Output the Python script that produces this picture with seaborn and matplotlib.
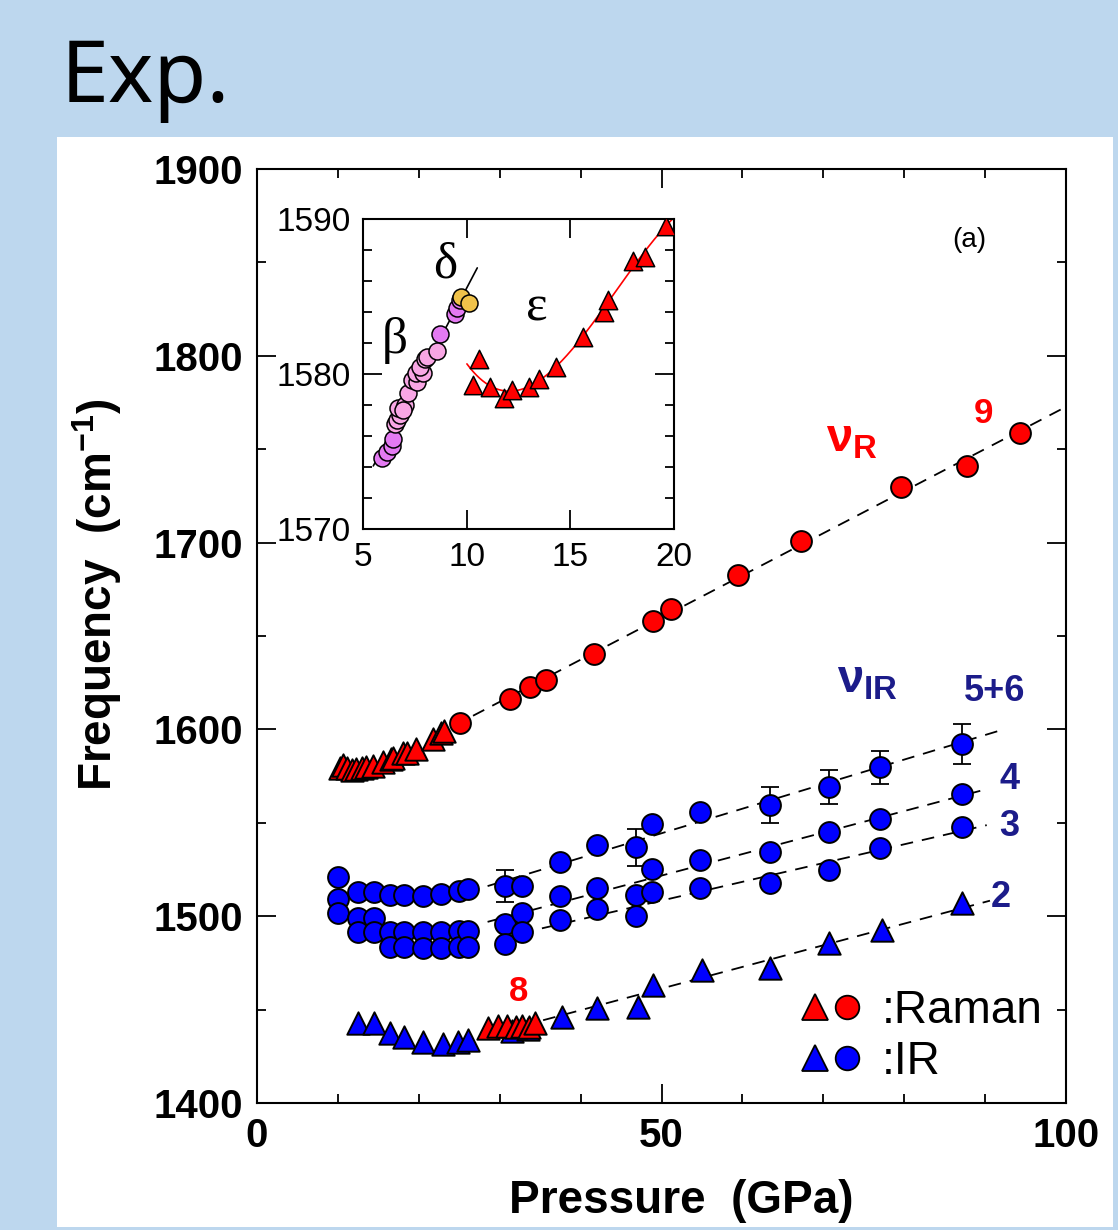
import numpy as np
import matplotlib
matplotlib.use("Agg")
import matplotlib.pyplot as plt
import seaborn as sns
from matplotlib.ticker import MultipleLocator
from matplotlib.lines import Line2D
from matplotlib.patches import Rectangle
from matplotlib.legend_handler import HandlerTuple

# ---- data ----
# Raman nu_R (mode 9), circles
r9_circ_p = [25.1, 31.3, 33.7, 35.7, 41.7, 48.9, 51.2, 59.5, 67.2, 79.6, 87.8, 94.3]
r9_circ_f = [1603.4, 1616.3, 1622.7, 1626.4, 1640.4, 1658.0, 1664.5, 1682.7, 1700.9, 1729.8, 1741.0, 1758.7]

# Raman mode 9, triangles (epsilon phase, also in inset)
r9_tri_p = [10.3, 10.6, 11.1, 11.8, 12.2, 13.0, 13.5, 14.3, 15.6, 16.6, 16.8, 18.0, 18.6, 19.6, 21.8, 22.8, 23.1]
r9_tri_f = [1579.3, 1581.0, 1579.2, 1578.5, 1579.0, 1579.2, 1579.7, 1580.5, 1582.4, 1584.0, 1584.8,
            1587.3, 1587.6, 1589.6, 1594.6, 1597.8, 1599.2]

# Raman mode 8, triangles
r8_p = [28.6, 29.8, 30.9, 32.0, 32.7, 33.6, 34.4]
r8_f = [1440.0, 1441.2, 1441.2, 1440.5, 1441.2, 1440.8, 1442.7]

# inset: beta phase (two shades) and delta phase
beta_violet_p = [5.89, 6.13, 6.37, 6.42, 8.70, 9.43, 9.51, 9.67]
beta_violet_f = [1574.6, 1575.0, 1575.4, 1575.8, 1582.6, 1583.9, 1584.3, 1584.8]
beta_pink_p = [6.53, 6.61, 6.77, 6.69, 7.01, 6.93, 7.17, 7.34, 7.58, 7.54, 7.87, 7.74, 7.98, 8.06, 8.54]
beta_pink_f = [1576.8, 1577.05, 1577.4, 1577.8, 1578.0, 1577.7, 1578.8, 1579.6, 1579.5, 1580.1,
               1580.1, 1580.5, 1581.0, 1581.1, 1581.5]
delta_p = [9.70, 10.12]
delta_f = [1585.0, 1584.6]

# IR circles, high pressure (modes 5+6, 4, 3)
ir_p = [30.7, 32.7, 37.5, 42.0, 46.9, 48.8, 54.8, 63.4, 70.7, 77.0, 87.1]
ir56_f = [1516.3, 1516.3, 1529.2, 1538.1, 1536.9, 1549.4, 1555.9, 1559.5, 1569.3, 1579.7, 1592.2]
ir56_err = [8.5, 0, 0, 0, 10.0, 0, 0, 9.4, 9.1, 8.9, 10.9]
ir4_f = [1495.8, 1501.9, 1510.8, 1514.9, 1511.3, 1525.3, 1530.1, 1534.2, 1545.1, 1552.0, 1565.4]
ir3_f = [1485.0, 1491.7, 1498.0, 1503.7, 1500.1, 1512.8, 1514.9, 1517.9, 1524.7, 1536.7, 1547.9]

# IR circles, low pressure
ir_low_p = [10.05, 10.05, 10.05, 12.5, 12.5, 12.5, 14.5, 14.5, 14.5, 16.4, 16.4, 16.4,
            18.2, 18.2, 18.2, 20.5, 20.5, 20.5, 22.8, 22.8, 22.8, 25.0, 25.0, 25.0, 26.1, 26.1, 26.1]
ir_low_f = [1520.8, 1509.2, 1501.6, 1512.8, 1499.2, 1491.7, 1512.8, 1499.2, 1491.7,
            1511.3, 1491.7, 1483.7, 1511.3, 1491.7, 1483.7, 1511.0, 1491.7, 1482.8,
            1511.7, 1491.7, 1482.8, 1513.7, 1492.1, 1483.7, 1514.4, 1492.1, 1483.7]

# IR mode 2, triangles
ir2_p = [12.5, 14.5, 16.4, 18.2, 20.5, 23.0, 24.9, 26.1, 31.5, 33.5, 37.7, 42.0, 47.1,
         49.0, 55.0, 63.4, 70.7, 77.2, 87.2]
ir2_f = [1442.7, 1442.7, 1437.6, 1435.2, 1432.8, 1431.6, 1432.8, 1433.7, 1438.5, 1439.5,
         1446.2, 1450.7, 1451.2, 1463.2, 1471.2, 1472.1, 1485.5, 1492.6, 1506.9]

RED = "#FF0000"
BLUE = "#0000FF"
NAVY = "#1C1C8A"

sns.set_theme(style="ticks", rc={"axes.edgecolor": "black", "xtick.color": "black",
                                 "ytick.color": "black", "text.color": "black",
                                 "axes.labelcolor": "black"})
plt.rcParams["font.family"] = ["Liberation Sans", "DejaVu Sans"]
plt.rcParams["mathtext.fontset"] = "custom"
plt.rcParams["mathtext.default"] = "regular"

fig = plt.figure(figsize=(11.18, 12.3), dpi=100, facecolor="#BDD7EE")
fig.add_artist(Rectangle((0.051, 0.0024), 0.9445, 0.8862, transform=fig.transFigure,
                         facecolor="white", edgecolor="none", zorder=-1))
fig.text(0.0546, 0.917, "Exp.", fontsize=62, family=["Noto Sans", "DejaVu Sans"], va="baseline")

ax = fig.add_axes([0.2299, 0.1033, 0.7236, 0.7593])


def fit_line(axis, p, f, lo, hi, deg=1, **kw):
    coef = np.polyfit(p, f, deg)
    xs = np.linspace(lo, hi, 200)
    sns.lineplot(x=xs, y=np.polyval(coef, xs), ax=axis, **kw)


dash = dict(color="black", linewidth=1.3, linestyle=(0, (7, 5)), zorder=1)
r9p, r9f = np.array(r9_circ_p), np.array(r9_circ_f)
fit_line(ax, r9p, r9f, 26.7, 100, **dash)
fit_line(ax, ir_p, ir56_f, 28.5, 91.6, **dash)
fit_line(ax, ir_p, ir4_f, 28.5, 89.4, **dash)
fit_line(ax, ir_p, ir3_f, 30.0, 90.2, **dash)
p2, f2 = np.array(ir2_p), np.array(ir2_f)
fit_line(ax, np.r_[p2[p2 > 26], r8_p], np.r_[f2[p2 > 26], r8_f], 27.6, 90.6, **dash)

err = np.array(ir56_err)
m = err > 0
ax.errorbar(np.array(ir_p)[m], np.array(ir56_f)[m], yerr=err[m], fmt="none", ecolor="black",
            elinewidth=1.3, capsize=6.5, capthick=1.3, zorder=2)

circ = dict(marker="o", s=225, edgecolor="black", linewidth=1.4, zorder=3, legend=False)
tri = dict(marker="^", s=260, edgecolor="black", linewidth=1.4, zorder=3, legend=False)
sns.scatterplot(x=ir_low_p, y=ir_low_f, color=BLUE, ax=ax, **circ)
for fv in (ir56_f, ir4_f, ir3_f):
    sns.scatterplot(x=ir_p, y=fv, color=BLUE, ax=ax, **circ)
sns.scatterplot(x=ir2_p, y=ir2_f, color=BLUE, ax=ax, **tri)
sns.scatterplot(x=r8_p, y=r8_f, color=RED, ax=ax, **tri)
sns.scatterplot(x=r9_tri_p, y=r9_tri_f, color=RED, ax=ax, **tri)
sns.scatterplot(x=r9_circ_p, y=r9_circ_f, color=RED, ax=ax, **circ)

ax.set_xlim(0, 100)
ax.set_ylim(1400, 1900)
ax.xaxis.set_major_locator(MultipleLocator(50))
ax.xaxis.set_minor_locator(MultipleLocator(10))
ax.yaxis.set_major_locator(MultipleLocator(100))
ax.yaxis.set_minor_locator(MultipleLocator(50))
ax.tick_params(which="both", direction="in", top=True, right=True, width=1.3)
ax.tick_params(which="major", length=13.5, labelsize=29, pad=10)
ax.tick_params(which="minor", length=6.5)
plt.setp(ax.get_xticklabels() + ax.get_yticklabels(), fontweight="bold")
for sp in ax.spines.values():
    sp.set_linewidth(1.5)

ax.set_xlabel("Pressure  (GPa)", fontsize=33, fontweight="bold")
ax.xaxis.set_label_coords(0.525, -0.081)
fig.text(97 / 1118, 1 - 595 / 1230, "Frequency  (cm$^{-1}$)", fontsize=33, fontweight="bold",
         rotation=90, ha="center", va="center")

# annotations
ax.text(73.5, 1755, r"$\nu_R$", color=RED, fontsize=34, fontweight="bold", ha="center", va="center")
ax.text(89.8, 1769, "9", color=RED, fontsize=25, fontweight="bold", ha="center", va="center")
ax.text(75.5, 1626, r"$\nu_{IR}$", color=NAVY, fontsize=34, fontweight="bold", ha="center", va="center")
ax.text(91.2, 1620.5, "5+6", color=NAVY, fontsize=26, fontweight="bold", ha="center", va="center")
ax.text(93.0, 1573.3, "4", color=NAVY, fontsize=26, fontweight="bold", ha="center", va="center")
ax.text(93.0, 1547.9, "3", color=NAVY, fontsize=26, fontweight="bold", ha="center", va="center")
ax.text(92.0, 1510.1, "2", color=NAVY, fontsize=26, fontweight="bold", ha="center", va="center")
ax.text(32.3, 1459.6, "8", color=RED, fontsize=25, fontweight="bold", ha="center", va="center")
ax.text(88.1, 1862, "(a)", fontsize=20, ha="center", va="center")

# legend: triangle + circle per row
h_raman = (Line2D([], [], marker="^", ls="none", ms=19, mfc=RED, mec="black", mew=1.3),
           Line2D([], [], marker="o", ls="none", ms=17, mfc=RED, mec="black", mew=1.3))
h_ir = (Line2D([], [], marker="^", ls="none", ms=19, mfc=BLUE, mec="black", mew=1.3),
        Line2D([], [], marker="o", ls="none", ms=17, mfc=BLUE, mec="black", mew=1.3))
ax.legend([h_raman, h_ir], [":Raman", ":IR"], handler_map={tuple: HandlerTuple(ndivide=None, pad=0)},
          loc="upper left", bbox_to_anchor=(0.671, 0.122), frameon=False, fontsize=33,
          handlelength=1.36, handletextpad=0.42, labelspacing=0.15, borderpad=0, borderaxespad=0,
          numpoints=1)

# ---- inset ----
axin = fig.add_axes([0.325, 0.5697, 0.2779, 0.2520])
axin.set_facecolor("white")
bp = np.r_[beta_violet_p, beta_pink_p, delta_p]
bf = np.r_[beta_violet_f, beta_pink_f, delta_f]
fit_line(axin, bp, bf, 5.48, 10.5, color="black", linewidth=1.2, zorder=1)
tp, tf = np.array(r9_tri_p), np.array(r9_tri_f)
sel = tp <= 20
fit_line(axin, tp[sel], tf[sel], 10.0, 20.0, deg=3, color=RED, linewidth=1.2, zorder=1)

icirc = dict(marker="o", s=150, edgecolor="black", linewidth=1.1, zorder=3, legend=False)
sns.scatterplot(x=beta_violet_p, y=beta_violet_f, color="#E47AF2", ax=axin, **icirc)
sns.scatterplot(x=beta_pink_p, y=beta_pink_f, color="#F8A6E4", ax=axin, **icirc)
sns.scatterplot(x=delta_p, y=delta_f, color="#F0C24A", ax=axin, **icirc)
sns.scatterplot(x=tp[sel], y=tf[sel], color=RED, ax=axin, marker="^", s=175,
                edgecolor="black", linewidth=1.1, zorder=3, legend=False)

axin.set_xlim(5, 20)
axin.set_ylim(1570, 1590)
axin.xaxis.set_major_locator(MultipleLocator(5))
axin.yaxis.set_major_locator(MultipleLocator(10))
axin.yaxis.set_minor_locator(MultipleLocator(2))
axin.tick_params(which="both", direction="in", top=True, right=True, width=1.3)
axin.tick_params(which="major", length=13.5, labelsize=24, pad=9)
axin.tick_params(which="minor", length=6.5)
for sp in axin.spines.values():
    sp.set_linewidth(1.5)

axin.text(6.53, 1582.2, "\u03b2", fontsize=37, family=["Liberation Serif"], ha="center", va="center")
axin.text(8.94, 1587.05, "\u03b4", fontsize=37, family=["Liberation Serif"], ha="center", va="center")
axin.text(13.37, 1584.26, "\u03b5", fontsize=37, family=["Liberation Serif"], ha="center", va="center")

fig.savefig("out.png", dpi=100, facecolor=fig.get_facecolor())
